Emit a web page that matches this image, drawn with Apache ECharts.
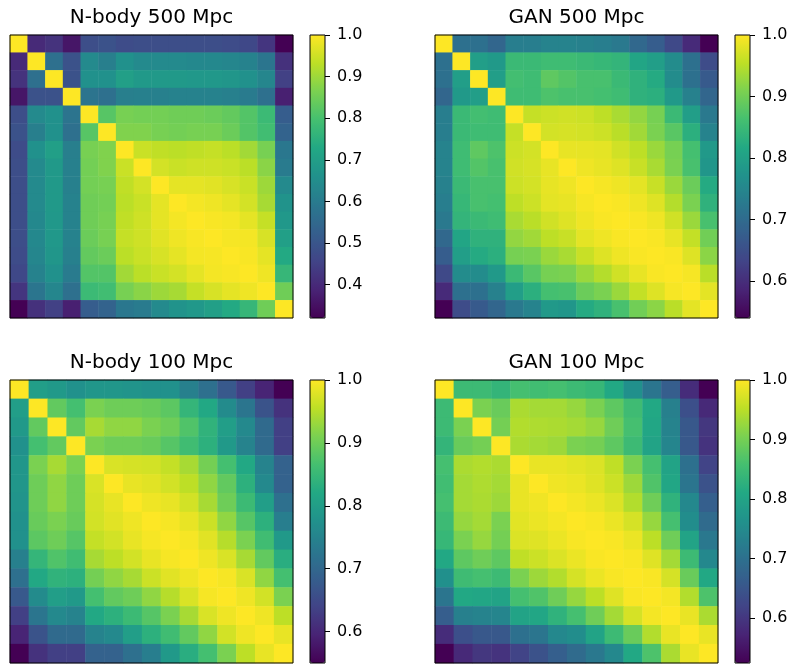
<!DOCTYPE html>
<html><head><meta charset="utf-8">
<script src="https://cdn.jsdelivr.net/npm/echarts@6/dist/echarts.min.js"></script>
<style>html,body{margin:0;padding:0;background:#fff}#c{width:794px;height:665px}</style>
</head><body><div id="c"></div>
<script>
const titles = ['N-body 500 Mpc', 'GAN 500 Mpc', 'N-body 100 Mpc', 'GAN 100 Mpc'];

const nbody500 = [
 [1.0,0.40,0.42,0.36,0.48,0.49,0.475,0.48,0.48,0.48,0.48,0.48,0.475,0.465,0.425,0.32],
 [0.40,1.0,0.57,0.49,0.64,0.61,0.66,0.64,0.64,0.64,0.635,0.635,0.63,0.62,0.585,0.415],
 [0.42,0.57,1.0,0.49,0.66,0.66,0.70,0.685,0.685,0.685,0.68,0.68,0.675,0.66,0.63,0.45],
 [0.36,0.49,0.49,1.0,0.58,0.57,0.61,0.615,0.615,0.62,0.62,0.62,0.615,0.60,0.57,0.38],
 [0.48,0.64,0.66,0.58,1.0,0.82,0.86,0.855,0.855,0.85,0.85,0.845,0.835,0.815,0.78,0.52],
 [0.49,0.61,0.66,0.57,0.82,1.0,0.87,0.87,0.86,0.855,0.86,0.86,0.845,0.815,0.79,0.535],
 [0.475,0.66,0.70,0.61,0.86,0.87,1.0,0.945,0.935,0.93,0.935,0.94,0.93,0.905,0.86,0.59],
 [0.48,0.64,0.685,0.615,0.855,0.87,0.945,1.0,0.955,0.945,0.95,0.95,0.945,0.93,0.88,0.60],
 [0.48,0.64,0.685,0.615,0.855,0.86,0.935,0.955,1.0,0.975,0.975,0.97,0.96,0.945,0.90,0.64],
 [0.48,0.64,0.685,0.62,0.85,0.855,0.93,0.945,0.975,1.0,0.99,0.985,0.975,0.955,0.91,0.665],
 [0.48,0.635,0.68,0.62,0.85,0.86,0.935,0.95,0.975,0.99,1.0,0.995,0.99,0.975,0.94,0.68],
 [0.48,0.635,0.68,0.62,0.845,0.86,0.94,0.95,0.97,0.985,0.995,1.0,0.993,0.99,0.96,0.70],
 [0.475,0.63,0.675,0.615,0.835,0.845,0.93,0.945,0.96,0.975,0.99,0.993,1.0,0.995,0.975,0.73],
 [0.465,0.62,0.66,0.60,0.815,0.815,0.905,0.93,0.945,0.955,0.975,0.99,0.995,1.0,0.985,0.77],
 [0.425,0.585,0.63,0.57,0.78,0.79,0.86,0.88,0.90,0.91,0.94,0.96,0.975,0.985,1.0,0.85],
 [0.32,0.415,0.45,0.38,0.52,0.535,0.59,0.60,0.64,0.665,0.68,0.70,0.73,0.77,0.85,1.0]
];

const gan500 = [
 [1.0,0.71,0.71,0.69,0.735,0.735,0.745,0.745,0.74,0.735,0.725,0.695,0.675,0.64,0.595,0.54],
 [0.71,1.0,0.795,0.785,0.85,0.85,0.855,0.855,0.85,0.845,0.84,0.81,0.795,0.76,0.71,0.645],
 [0.71,0.795,1.0,0.795,0.86,0.855,0.885,0.875,0.865,0.865,0.85,0.835,0.82,0.76,0.71,0.67],
 [0.69,0.785,0.795,1.0,0.855,0.855,0.87,0.865,0.865,0.862,0.855,0.835,0.83,0.785,0.74,0.69],
 [0.735,0.85,0.86,0.855,1.0,0.96,0.965,0.968,0.965,0.955,0.94,0.925,0.905,0.85,0.795,0.725],
 [0.735,0.85,0.855,0.855,0.96,1.0,0.97,0.972,0.97,0.965,0.952,0.935,0.908,0.88,0.83,0.745],
 [0.745,0.855,0.885,0.87,0.965,0.97,1.0,0.985,0.984,0.982,0.968,0.954,0.93,0.905,0.862,0.785],
 [0.745,0.855,0.875,0.865,0.968,0.972,0.985,1.0,0.99,0.985,0.978,0.962,0.94,0.908,0.865,0.78],
 [0.74,0.85,0.865,0.865,0.965,0.97,0.984,0.99,1.0,0.995,0.99,0.982,0.962,0.93,0.895,0.82],
 [0.735,0.845,0.865,0.862,0.955,0.965,0.982,0.985,0.995,1.0,0.997,0.99,0.978,0.948,0.908,0.835],
 [0.725,0.84,0.85,0.855,0.94,0.952,0.968,0.978,0.99,0.997,1.0,0.997,0.99,0.968,0.93,0.865],
 [0.695,0.81,0.835,0.835,0.925,0.935,0.954,0.962,0.982,0.99,0.997,1.0,0.997,0.985,0.958,0.90],
 [0.675,0.795,0.82,0.83,0.905,0.908,0.93,0.94,0.962,0.978,0.99,0.997,1.0,0.997,0.978,0.92],
 [0.64,0.76,0.76,0.785,0.85,0.88,0.905,0.908,0.93,0.948,0.968,0.985,0.997,1.0,0.995,0.952],
 [0.595,0.71,0.71,0.74,0.795,0.83,0.862,0.865,0.895,0.908,0.93,0.958,0.978,0.995,1.0,0.982],
 [0.54,0.645,0.67,0.69,0.725,0.745,0.785,0.78,0.82,0.835,0.865,0.90,0.92,0.952,0.982,1.0]
];

const nbody100 = [
 [1.0,0.80,0.79,0.775,0.785,0.785,0.78,0.775,0.775,0.745,0.715,0.675,0.635,0.595,0.55],
 [0.80,1.0,0.89,0.865,0.91,0.90,0.90,0.895,0.885,0.845,0.82,0.765,0.725,0.665,0.615],
 [0.79,0.89,1.0,0.89,0.94,0.925,0.925,0.91,0.90,0.875,0.84,0.80,0.76,0.705,0.635],
 [0.775,0.865,0.89,1.0,0.91,0.90,0.90,0.895,0.88,0.86,0.835,0.79,0.75,0.705,0.635],
 [0.785,0.91,0.94,0.91,1.0,0.975,0.972,0.97,0.96,0.94,0.905,0.865,0.82,0.75,0.69],
 [0.785,0.90,0.925,0.90,0.975,1.0,0.985,0.98,0.97,0.955,0.925,0.89,0.835,0.76,0.69],
 [0.78,0.90,0.925,0.90,0.972,0.985,1.0,0.99,0.985,0.97,0.94,0.90,0.855,0.80,0.715],
 [0.775,0.895,0.91,0.895,0.97,0.98,0.99,1.0,0.995,0.985,0.965,0.925,0.88,0.835,0.74],
 [0.775,0.885,0.90,0.88,0.96,0.97,0.985,0.995,1.0,0.995,0.98,0.95,0.91,0.86,0.79],
 [0.745,0.845,0.875,0.86,0.94,0.955,0.97,0.985,0.995,1.0,0.99,0.975,0.94,0.89,0.83],
 [0.715,0.82,0.84,0.835,0.905,0.925,0.94,0.965,0.98,0.99,1.0,0.995,0.975,0.925,0.865],
 [0.675,0.765,0.80,0.79,0.865,0.89,0.90,0.925,0.95,0.975,0.995,1.0,0.99,0.97,0.91],
 [0.635,0.725,0.76,0.75,0.82,0.835,0.855,0.88,0.91,0.94,0.975,0.99,1.0,0.99,0.955],
 [0.595,0.665,0.705,0.705,0.75,0.76,0.80,0.835,0.86,0.89,0.925,0.97,0.99,1.0,0.985],
 [0.55,0.615,0.635,0.635,0.69,0.69,0.715,0.74,0.79,0.83,0.865,0.91,0.955,0.985,1.0]
];

const gan100 = [
 [1.0,0.848,0.848,0.835,0.858,0.853,0.858,0.848,0.84,0.81,0.76,0.71,0.665,0.585,0.525],
 [0.848,1.0,0.905,0.89,0.94,0.935,0.935,0.925,0.905,0.88,0.85,0.81,0.73,0.64,0.58],
 [0.848,0.905,1.0,0.90,0.945,0.942,0.94,0.935,0.925,0.895,0.858,0.805,0.735,0.655,0.60],
 [0.835,0.89,0.90,1.0,0.94,0.935,0.93,0.905,0.90,0.88,0.848,0.80,0.74,0.655,0.595],
 [0.858,0.94,0.945,0.94,1.0,0.985,0.985,0.98,0.975,0.955,0.905,0.858,0.80,0.70,0.62],
 [0.853,0.935,0.942,0.935,0.985,1.0,0.99,0.987,0.978,0.963,0.93,0.868,0.805,0.71,0.645],
 [0.858,0.935,0.94,0.93,0.985,0.99,1.0,0.993,0.987,0.975,0.945,0.895,0.83,0.745,0.668],
 [0.848,0.925,0.935,0.905,0.98,0.987,0.993,1.0,0.996,0.987,0.97,0.925,0.858,0.755,0.69],
 [0.84,0.905,0.925,0.90,0.975,0.978,0.987,0.996,1.0,0.997,0.987,0.952,0.895,0.80,0.715],
 [0.81,0.88,0.895,0.88,0.955,0.963,0.975,0.987,0.997,1.0,0.996,0.978,0.935,0.848,0.745],
 [0.76,0.85,0.858,0.848,0.905,0.93,0.945,0.97,0.987,0.996,1.0,0.997,0.97,0.89,0.81],
 [0.71,0.81,0.805,0.80,0.858,0.868,0.895,0.925,0.952,0.978,0.997,1.0,0.993,0.945,0.865],
 [0.665,0.73,0.735,0.74,0.80,0.805,0.83,0.858,0.895,0.935,0.97,0.993,1.0,0.985,0.94],
 [0.585,0.64,0.655,0.655,0.70,0.71,0.745,0.755,0.80,0.848,0.89,0.945,0.985,1.0,0.985],
 [0.525,0.58,0.60,0.595,0.62,0.645,0.668,0.69,0.715,0.745,0.81,0.865,0.94,0.985,1.0]
];

const colorMins = [0.32, 0.54, 0.55, 0.525];
const colorMax = 1.0;
const ticksNbody500 = [0.4, 0.5, 0.6, 0.7, 0.8, 0.9, 1.0];
const ticksGan500 = [0.6, 0.7, 0.8, 0.9, 1.0];
const ticksNbody100 = [0.6, 0.7, 0.8, 0.9, 1.0];
const ticksGan100 = [0.6, 0.7, 0.8, 0.9, 1.0];

const viridis = ['#440154','#482475','#414487','#355f8d','#2a788e','#21918c','#22a884','#44bf70','#7ad151','#bddf26','#fde725'];

const matrices = [nbody500, gan500, nbody100, gan100];
const tickSets = [ticksNbody500, ticksGan500, ticksNbody100, ticksGan100];

// layout (pixels)
const panelLeft = [10, 435, 10, 435];
const panelTop = [35, 35, 380, 380];
const S = 283;
const cbOffset = 300, cbW = 15;
const FONT = 'DejaVu Sans';

const grid = [], xAxis = [], yAxis = [], series = [], visualMap = [], title = [];
matrices.forEach((m, k) => {
  const n = m.length;
  const cats = m.map((_, i) => String(i));
  const data = [];
  m.forEach((row, i) => row.forEach((v, j) => data.push([j, i, v])));
  grid.push({left: panelLeft[k], top: panelTop[k], width: S, height: S,
    show: true, borderColor: '#000', borderWidth: 1, backgroundColor: 'transparent', z: 10});
  xAxis.push({type: 'category', gridIndex: k, data: cats, show: false});
  yAxis.push({type: 'category', gridIndex: k, data: cats, inverse: true, show: false});
  series.push({type: 'heatmap', xAxisIndex: k, yAxisIndex: k, data: data,
    itemStyle: {borderWidth: 0}, emphasis: {disabled: true}, progressive: 0, animation: false});
  visualMap.push({type: 'continuous', seriesIndex: k, dimension: 2, min: colorMins[k], max: colorMax,
    calculable: false, hoverLink: false, orient: 'vertical', padding: 0,
    left: panelLeft[k] + cbOffset, top: panelTop[k], itemWidth: cbW, itemHeight: S,
    inRange: {color: viridis}});
  title.push({text: titles[k], left: panelLeft[k] + S / 2, top: panelTop[k] - 27, textAlign: 'center', padding: 0,
    textStyle: {fontFamily: FONT, fontSize: 20, fontWeight: 'normal', color: '#000'}});
});
// colorbar axes
matrices.forEach((m, k) => {
  const gi = 4 + k;
  grid.push({left: panelLeft[k] + cbOffset, top: panelTop[k], width: cbW, height: S,
    show: true, borderColor: '#000', borderWidth: 1, backgroundColor: 'transparent', z: 10});
  xAxis.push({type: 'category', gridIndex: gi, data: [''], show: false});
  yAxis.push({type: 'value', gridIndex: gi, min: colorMins[k], max: colorMax, position: 'right',
    axisLine: {show: false}, splitLine: {show: false},
    axisTick: {show: true, length: 5, lineStyle: {color: '#000', width: 1}, customValues: tickSets[k]},
    axisLabel: {show: true, customValues: tickSets[k], formatter: v => Number(v).toFixed(1),
      fontFamily: FONT, fontSize: 16, color: '#000', margin: 12}});
});

const chart = echarts.init(document.getElementById('c'), null, {renderer: 'canvas'});
chart.setOption({animation: false, backgroundColor: '#fff', title, grid, xAxis, yAxis, series, visualMap});
</script></body></html>
